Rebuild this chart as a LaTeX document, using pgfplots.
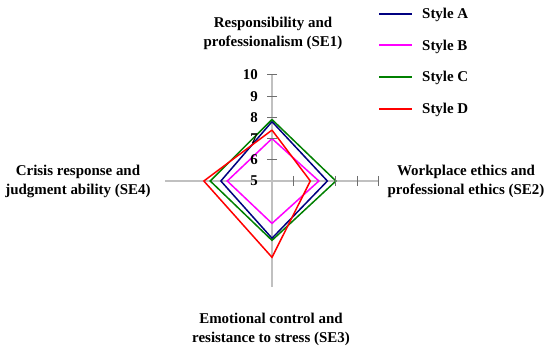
\documentclass[border=0pt]{standalone}
\usepackage{pgfplots}
\pgfplotsset{compat=1.18}
\usepackage{pgfplotstable}
\usepackage{fontspec}
\setmainfont{Liberation Serif}
\definecolor{cA}{RGB}{0,0,128}
\definecolor{cB}{RGB}{255,0,255}
\definecolor{cC}{RGB}{0,128,0}
\definecolor{cD}{RGB}{255,0,0}
\definecolor{axgray}{RGB}{192,192,192}
\definecolor{tickgray}{RGB}{110,110,110}
\tikzset{ticklab/.style={anchor=east, inner sep=0pt, font=\bfseries\fontsize{15}{18}\selectfont, xshift=-14bp}}
\pgfplotsset{legend image code/.code={\draw[#1, line width=2bp] (0bp,0.5bp) -- (33bp,0.5bp);}}
% angle: 90 = SE1 (top), 0 = SE2 (right), 270 = SE3 (bottom), 180 = SE4 (left)
\pgfplotstableread{
ang A B C D
90 7.8 7.0 7.9 7.4
0 7.6 7.2 8.0 6.8
270 7.7 7.0 7.8 8.6
180 7.4 7.1 7.9 8.2
90 7.8 7.0 7.9 7.4
}\radar
\begin{document}
\begin{tikzpicture}
\path[use as bounding box] (-272bp,-171bp) rectangle (278bp,181bp);
\begin{axis}[
  at={(0,0)}, anchor=origin,
  x=21.3bp, y=21.2bp,
  xmin=-5, xmax=5, ymin=-5, ymax=5,
  hide axis, clip=false,
  legend style={at={(axis cs:4.977,8.15)}, anchor=north west, draw=none, fill=none,
    font=\bfseries\fontsize{15}{18}\selectfont, row sep=19.7bp, inner sep=0pt,
    nodes={inner sep=0pt},
    /tikz/every odd column/.style={column sep=9bp}},
  legend cell align=left,
]
% axis cross
\addplot[axgray, line width=1.3bp, forget plot] coordinates {(0,-5) (0,5)};
\addplot[axgray, line width=1.3bp, forget plot] coordinates {(-5,0) (5,0)};
% ticks
\addplot[only marks, mark=-, mark size=5bp, mark options={tickgray, line width=1bp}, forget plot]
  coordinates {(0,1) (0,2) (0,3) (0,4) (0,5)};
\addplot[only marks, mark=|, mark size=5bp, mark options={tickgray, line width=1bp}, forget plot]
  coordinates {(1,0) (3,0) (4,0) (5,0)};
% series
\addplot[color=cA, line width=1.5bp] table[x expr={cos(\thisrow{ang})*(\thisrow{A}-5)}, y expr={sin(\thisrow{ang})*(\thisrow{A}-5)}] {\radar};
\addlegendentry{Style A}
\addplot[color=cB, line width=1.5bp] table[x expr={cos(\thisrow{ang})*(\thisrow{B}-5)}, y expr={sin(\thisrow{ang})*(\thisrow{B}-5)}] {\radar};
\addlegendentry{Style B}
\addplot[color=cC, line width=1.5bp] table[x expr={cos(\thisrow{ang})*(\thisrow{C}-5)}, y expr={sin(\thisrow{ang})*(\thisrow{C}-5)}] {\radar};
\addlegendentry{Style C}
\addplot[color=cD, line width=1.5bp] table[x expr={cos(\thisrow{ang})*(\thisrow{D}-5)}, y expr={sin(\thisrow{ang})*(\thisrow{D}-5)}] {\radar};
\addlegendentry{Style D}
% tick labels
\node[ticklab] at (axis cs:0,0) {5};
\node[ticklab] at (axis cs:0,1) {6};
\node[ticklab] at (axis cs:0,2) {7};
\node[ticklab] at (axis cs:0,3) {8};
\node[ticklab] at (axis cs:0,4) {9};
\node[ticklab] at (axis cs:0,5) {10};
\end{axis}
\begin{scope}[font=\bfseries\fontsize{15}{19}\selectfont]
\node[align=center, inner sep=0pt] at (1bp,148bp) {Responsibility and\\professionalism (SE1)};
\node[align=center, inner sep=0pt] at (194bp,0bp) {Workplace ethics and\\professional ethics (SE2)};
\node[align=center, inner sep=0pt] at (-1bp,-148bp) {Emotional control and\\resistance to stress (SE3)};
\node[align=center, inner sep=0pt] at (-194bp,0bp) {Crisis response and\\judgment ability (SE4)};
\end{scope}
\end{tikzpicture}
\end{document}
